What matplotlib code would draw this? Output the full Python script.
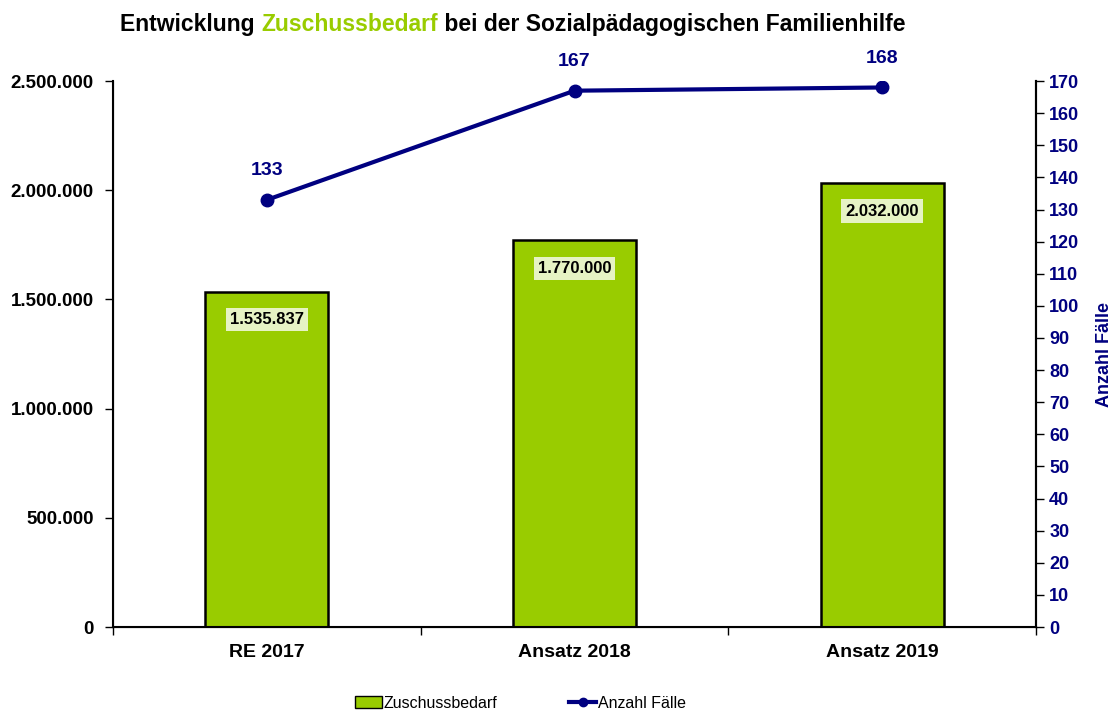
import matplotlib.pyplot as plt
import numpy as np
from matplotlib.ticker import FuncFormatter, MultipleLocator
from matplotlib.lines import Line2D
from matplotlib.patches import Patch

categories = ["RE 2017", "Ansatz 2018", "Ansatz 2019"]
zuschuss = [1535837, 1770000, 2032000]
faelle = [133, 167, 168]

GREEN = "#99cc00"
NAVY = "#000080"

plt.rcParams['font.family'] = ['Liberation Sans', 'DejaVu Sans']


def de_fmt(v, pos=None):
    return f"{int(round(v)):,}".replace(",", ".")


fig = plt.figure(figsize=(11.12, 7.11), dpi=100)
ax = fig.add_axes([0.1016, 0.1181, 0.8301, 0.7679])
x = np.arange(len(categories))

ax.bar(x, zuschuss, width=0.40, color=GREEN, edgecolor="black", linewidth=1.8, zorder=2)
ax.set_xlim(-0.5, len(categories) - 0.5)
ax.set_ylim(0, 2500000)
ax.yaxis.set_major_locator(MultipleLocator(500000))
ax.yaxis.set_major_formatter(FuncFormatter(de_fmt))
ax.set_xticks(x)
ax.set_xticklabels(categories, fontsize=14, fontweight="bold")
ax.tick_params(axis="x", length=0, pad=12)
# ticks between categories as in the original
ax.set_xticks(np.arange(-0.5, len(categories), 1.0), minor=True)
ax.tick_params(axis="x", which="minor", length=6, width=1)
ax.tick_params(axis="y", direction="out", length=6, width=1, labelsize=13.5, pad=8)
for lbl in ax.get_yticklabels():
    lbl.set_fontweight("bold")
ax.spines["top"].set_visible(False)
for s in ["left", "bottom", "right"]:
    ax.spines[s].set_linewidth(1.5)

for xi, v in zip(x, zuschuss):
    ax.annotate(de_fmt(v), (xi, v), xytext=(0, -20), textcoords="offset points",
                ha="center", va="center", fontsize=12, fontweight="bold",
                bbox=dict(boxstyle="square,pad=0.25", fc="#e6f3c4", ec="none"), zorder=4)

ax2 = ax.twinx()
ax2.plot(x, faelle, color=NAVY, linewidth=3, marker="o", markersize=9, zorder=5)
ax2.set_ylim(0, 170)
ax2.yaxis.set_major_locator(MultipleLocator(10))
ax2.tick_params(axis="y", direction="out", length=6, width=1, labelsize=13, labelcolor=NAVY)
for lbl in ax2.get_yticklabels():
    lbl.set_fontweight("bold")
ax2.spines["top"].set_visible(False)
ax2.spines["right"].set_linewidth(1.5)
ax2.set_ylabel("Anzahl Fälle", color=NAVY, fontsize=13, fontweight="bold", labelpad=12)

for xi, v in zip(x, faelle):
    ax2.annotate(str(v), (xi, v), xytext=(0, 21), textcoords="offset points",
                 ha="center", va="center", fontsize=14, fontweight="bold", color=NAVY)

# title with coloured middle word
t1 = fig.text(0.108, 0.966, "Entwicklung ", fontsize=16.5, fontweight="bold", va="center", ha="left")
t2 = fig.text(0, 0, "Zuschussbedarf", fontsize=16.5, fontweight="bold", color=GREEN, va="center")
t3 = fig.text(0, 0, " bei der Sozialpädagogischen Familienhilfe", fontsize=16.5, fontweight="bold", va="center")
fig.canvas.draw()
r = fig.canvas.get_renderer()
inv = fig.transFigure.inverted()
b1 = t1.get_window_extent(r)
t2.set_position(inv.transform((b1.x1, b1.y0 + b1.height / 2)))
b2 = t2.get_window_extent(r)
t3.set_position(inv.transform((b2.x1, b1.y0 + b1.height / 2)))

handles = [Patch(facecolor=GREEN, edgecolor="black", label="Zuschussbedarf"),
           Line2D([0], [0], color=NAVY, linewidth=3, marker="o", markersize=6, label="Anzahl Fälle")]
fig.legend(handles=handles, loc="center", bbox_to_anchor=(0.468, 0.011), ncol=2, frameon=False,
           fontsize=11.5, handlelength=1.7, handletextpad=0.1, columnspacing=4.5)

fig.savefig("out.png", dpi=100)
